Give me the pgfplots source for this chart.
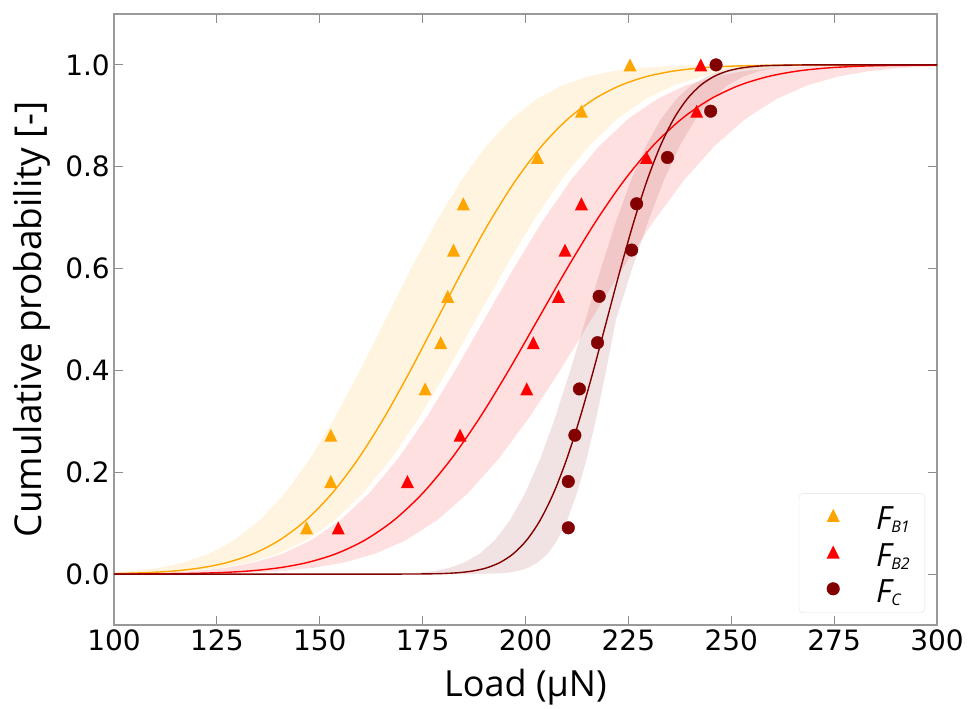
\documentclass[border=0pt]{standalone}
\usepackage{fontspec}
\setmainfont{Open Sans}
\newfontfamily\dejavu{DejaVu Sans}
\usepackage{pgfplots}
\pgfplotsset{compat=1.18}
\usepgfplotslibrary{fillbetween}
\definecolor{cO}{HTML}{FFA500}
\definecolor{cR}{HTML}{FF0000}
\definecolor{cD}{HTML}{820000}
\pgfdeclareplotmark{mtri}{%
 \pgfpathmoveto{\pgfqpoint{0pt}{\pgfplotmarksize}}%
 \pgfpathlineto{\pgfqpoint{-\pgfplotmarksize}{-\pgfplotmarksize}}%
 \pgfpathlineto{\pgfqpoint{\pgfplotmarksize}{-\pgfplotmarksize}}%
 \pgfpathclose\pgfusepathqfill}
\begin{document}
\begin{tikzpicture}
\begin{axis}[
 at={(0pt,0pt)}, anchor=south west,
 scale only axis, width=823pt, height=611pt,
 xmin=100, xmax=300, ymin=-0.1, ymax=1.1,
 xtick={100,125,150,175,200,225,250,275,300},
 ytick={0,0.2,0.4,0.6,0.8,1.0},
 tick align=inside, tick pos=both, major tick length=9pt,
 every tick/.style={black!45, line width=1pt},
 axis line style={black!40, line width=1.2pt},
 ticklabel style={font=\dejavu\fontsize{28}{30}\selectfont, /pgf/number format/assume math mode=true},
 xticklabel style={anchor=north, inner sep=0pt, yshift=-5pt},
 yticklabel style={anchor=east, inner sep=0pt, xshift=-4pt, /pgf/number format/.cd, fixed, fixed zerofill, precision=1},
 xlabel={Load (μN)},
 ylabel={Cumulative probability [-]},
 every axis x label/.style={at={([yshift=-72pt]rel axis cs:0.5,0)}, anchor=base, font=\fontsize{36}{40}\selectfont},
 every axis y label/.style={at={([xshift=-72.3pt]rel axis cs:0,0.5)}, anchor=base, rotate=90, font=\fontsize{37}{40}\selectfont},
 legend style={at={(1,0)}, anchor=south east, xshift=-12pt, yshift=12pt, draw=black!12, rounded corners=4pt, fill=white, inner xsep=3pt, inner ysep=6pt, row sep=2.7pt, nodes={inner sep=0pt, text height=30pt, text depth=4pt, font=\fontsize{32}{36}\selectfont\itshape}},
 legend cell align=left,
 legend image code/.code={\path (-31pt,0pt) (42.7pt,0pt); \draw[sharp corners, #1] plot coordinates {(0pt,1pt)};},
]
% bands
\addplot[name path=oU, draw=none, forget plot] coordinates {(100,0.00353)(104.75,0.00621)(110.875,0.01222)(117,0.02275)(123.125,0.04006)(129.25,0.06681)(135.375,0.10565)(141.5,0.15866)(147.625,0.22663)(153.75,0.30854)(159.875,0.40129)(166,0.5)(172.125,0.59871)(178.25,0.69146)(184.375,0.77337)(190.5,0.84134)(196.625,0.89435)(202.75,0.93319)(208.875,0.95994)(215,0.97725)(221.125,0.98778)(227.25,0.99379)(233.375,0.99702)(239.5,0.99865)(251.75,0.99977)(300,1)};
\addplot[name path=oL, draw=none, forget plot] coordinates {(100,0.0007)(105.5,0.00135)(112.375,0.00298)(119.25,0.00621)(126.125,0.01222)(133,0.02275)(139.875,0.04006)(146.75,0.06681)(153.625,0.10565)(160.5,0.15866)(167.375,0.22663)(174.25,0.30854)(181.125,0.40129)(188,0.5)(194.875,0.59871)(201.75,0.69146)(208.625,0.77337)(215.5,0.84134)(222.375,0.89435)(229.25,0.93319)(236.125,0.95994)(243,0.97725)(249.875,0.98778)(256.75,0.99379)(263.625,0.99702)(270.5,0.99865)(284.25,0.99977)(300,1)};
\addplot[fill=cO, fill opacity=0.12, draw=none, forget plot] fill between[of=oU and oL];
\addplot[name path=rU, draw=none, forget plot] coordinates {(100,0.00065)(106,0.00135)(113,0.00298)(120,0.00621)(127,0.01222)(134,0.02275)(141,0.04006)(148,0.06681)(155,0.10565)(162,0.15866)(169,0.22663)(176,0.30854)(183,0.40129)(190,0.5)(197,0.59871)(204,0.69146)(211,0.77337)(218,0.84134)(225,0.89435)(232,0.93319)(239,0.95994)(246,0.97725)(253,0.98778)(260,0.99379)(267,0.99702)(274,0.99865)(288,0.99977)(300,0.99995)};
\addplot[name path=rL, draw=none, forget plot] coordinates {(100,0.00005)(111,0.00023)(118.5,0.00058)(126,0.00135)(133.5,0.00298)(141,0.00621)(148.5,0.01222)(156,0.02275)(163.5,0.04006)(171,0.06681)(178.5,0.10565)(186,0.15866)(193.5,0.22663)(201,0.30854)(208.5,0.40129)(216,0.5)(223.5,0.59871)(231,0.69146)(238.5,0.77337)(246,0.84134)(253.5,0.89435)(261,0.93319)(268.5,0.95994)(276,0.97725)(283.5,0.98778)(291,0.99379)(300,0.99744)};
\addplot[fill=cR, fill opacity=0.12, draw=none, forget plot] fill between[of=rU and rL];
\addplot[name path=dU, draw=none, forget plot] coordinates {(100,0)(150,0)(155.8,0.00003)(163.15,0.00023)(166.825,0.00058)(170.5,0.00135)(174.175,0.00298)(177.85,0.00621)(181.525,0.01222)(185.2,0.02275)(188.875,0.04006)(192.55,0.06681)(196.225,0.10565)(199.9,0.15866)(203.575,0.22663)(207.25,0.30854)(210.925,0.40129)(214.6,0.5)(218.275,0.59871)(221.95,0.69146)(225.625,0.77337)(229.3,0.84134)(232.975,0.89435)(236.65,0.93319)(240.325,0.95994)(244,0.97725)(247.675,0.98778)(251.35,0.99379)(255.025,0.99702)(258.7,0.99865)(266.05,0.99977)(273.4,0.99997)(300,1)};
\addplot[name path=dL, draw=none, forget plot] coordinates {(100,0)(180,0)(184,0.00003)(188.75,0.00023)(193.5,0.00135)(195.875,0.00298)(198.25,0.00621)(200.625,0.01222)(203,0.02275)(205.375,0.04006)(207.75,0.06681)(210.125,0.10565)(212.5,0.15866)(214.875,0.22663)(217.25,0.30854)(219.625,0.40129)(222,0.5)(225.875,0.59871)(229.75,0.69146)(233.625,0.77337)(237.5,0.84134)(241.375,0.89435)(245.25,0.93319)(249.125,0.95994)(253,0.97725)(256.875,0.98778)(260.75,0.99379)(264.625,0.99702)(268.5,0.99865)(276.25,0.99977)(300,1)};
\addplot[fill=cD, fill opacity=0.11, draw=none, forget plot] fill between[of=dU and dL];
% fitted curves
\addplot[cO, line width=1.4pt, smooth, forget plot] coordinates {(100,0.00104)(102,0.00135)(108.375,0.00298)(114.75,0.00621)(121.125,0.01222)(127.5,0.02275)(133.875,0.04006)(140.25,0.06681)(146.625,0.10565)(153,0.15866)(159.375,0.22663)(165.75,0.30854)(172.125,0.40129)(178.5,0.5)(184.875,0.59871)(191.25,0.69146)(197.625,0.77337)(204,0.84134)(210.375,0.89435)(216.75,0.93319)(223.125,0.95994)(229.5,0.97725)(235.875,0.98778)(242.25,0.99379)(248.625,0.99702)(255,0.99865)(267.75,0.99977)(300,1)};
\addplot[cR, line width=1.4pt, smooth, forget plot] coordinates {(100,0.00012)(105,0.00023)(112,0.00058)(119,0.00135)(126,0.00298)(133,0.00621)(140,0.01222)(147,0.02275)(154,0.04006)(161,0.06681)(168,0.10565)(175,0.15866)(182,0.22663)(189,0.30854)(196,0.40129)(203,0.5)(210,0.59871)(217,0.69146)(224,0.77337)(231,0.84134)(238,0.89435)(245,0.93319)(252,0.95994)(259,0.97725)(266,0.98778)(273,0.99379)(280,0.99702)(287,0.99865)(300,0.99973)};
\addplot[cD, line width=1.4pt, smooth, forget plot] coordinates {(100,0)(150,0)(167.8,0.00003)(174.3,0.00023)(177.55,0.00058)(180.8,0.00135)(184.05,0.00298)(187.3,0.00621)(190.55,0.01222)(193.8,0.02275)(197.05,0.04006)(200.3,0.06681)(203.55,0.10565)(206.8,0.15866)(210.05,0.22663)(213.3,0.30854)(216.55,0.40129)(219.8,0.5)(223.05,0.59871)(226.3,0.69146)(229.55,0.77337)(232.8,0.84134)(236.05,0.89435)(239.3,0.93319)(242.55,0.95994)(245.8,0.97725)(249.05,0.98778)(252.3,0.99379)(255.55,0.99702)(258.8,0.99865)(265.3,0.99977)(271.8,0.99997)(300,1)};
% data
\addplot[only marks, mark=mtri, mark size=6.5pt, color=cO] coordinates {(146.8,0.0909)(152.7,0.1818)(152.7,0.2727)(175.6,0.3636)(179.4,0.4545)(181.1,0.5455)(182.5,0.6364)(184.9,0.7273)(202.9,0.8182)(213.6,0.9091)(225.4,1.0)};
\addlegendentry{F\raisebox{-3pt}{\fontsize{16}{16}\selectfont B1}\kern12pt}
\addplot[only marks, mark=mtri, mark size=6.5pt, color=cR] coordinates {(154.5,0.0909)(171.3,0.1818)(184.1,0.2727)(200.3,0.3636)(201.9,0.4545)(208.0,0.5455)(209.6,0.6364)(213.6,0.7273)(229.4,0.8182)(241.6,0.9091)(242.6,1.0)};
\addlegendentry{F\raisebox{-3pt}{\fontsize{16}{16}\selectfont B2}\kern12pt}
\addplot[only marks, mark=*, mark size=6.3pt, color=cD] coordinates {(210.4,0.0909)(210.4,0.1818)(212.0,0.2727)(213.1,0.3636)(217.5,0.4545)(217.9,0.5455)(225.8,0.6364)(227.0,0.7273)(234.5,0.8182)(245.0,0.9091)(246.3,1.0)};
\addlegendentry{F\raisebox{-3pt}{\fontsize{16}{16}\selectfont C}\kern12pt}
\end{axis}
\path (-114pt,-82pt) rectangle (857pt,625pt);
\end{tikzpicture}
\end{document}
